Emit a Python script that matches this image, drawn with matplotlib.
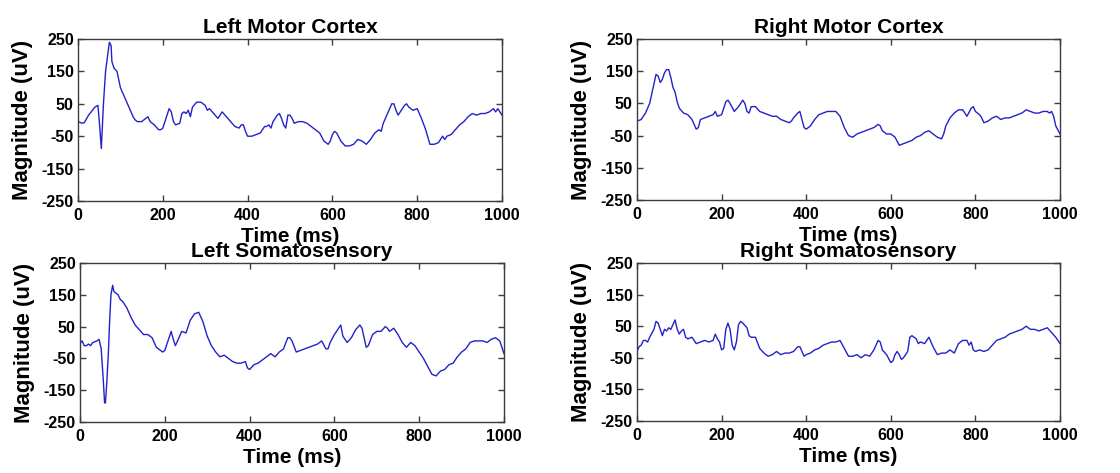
import matplotlib
matplotlib.use("Agg")
import matplotlib.pyplot as plt

# ---------------- data ----------------
lmc_t = [0, 10, 15, 25, 40, 47, 50, 55, 60, 65, 70, 74, 78, 80, 85, 92, 100, 110, 120, 130,
         135, 140, 150, 160, 165, 170, 180, 190, 195, 200, 210, 215, 220, 225, 230, 240, 245,
         250, 255, 260, 265, 270, 280, 290, 300, 305, 310, 320, 330, 340, 350, 360, 370, 380,
         385, 390, 395, 400, 410, 420, 430, 440, 445, 450, 455, 460, 470, 475, 480, 485, 490,
         495, 500, 505, 510, 520, 530, 540, 550, 560, 570, 580, 590, 595, 600, 605, 610, 620,
         630, 640, 650, 660, 670, 680, 690, 700, 710, 715, 720, 730, 740, 745, 750, 755, 760,
         770, 775, 780, 790, 800, 810, 820, 830, 840, 850, 855, 860, 865, 870, 880, 890, 900,
         910, 920, 930, 940, 950, 960, 970, 980, 985, 990, 1000]
lmc_v = [-5, -10, -8, 15, 40, 45, 0, -88, 50, 150, 200, 240, 230, 180, 160, 150, 100, 70, 40, 10,
         0, -5, -5, 5, 10, -5, -15, -30, -30, -25, 15, 35, 25, -5, -15, -10, 20,
         25, 20, 30, 10, 40, 55, 55, 45, 30, 35, 20, 5, 25, 10, -5, -20, -25,
         -15, -15, -35, -50, -50, -45, -40, -20, -20, -15, -25, -5, 15, 20, 5, -15, -25,
         15, 15, 5, -10, -5, -5, -10, -20, -30, -40, -65, -75, -65, -45, -35, -40, -65,
         -80, -80, -75, -60, -65, -75, -60, -40, -30, -35, -10, 20, 50, 50, 30, 15, 25,
         45, 50, 40, 30, 35, 5, -30, -75, -75, -70, -60, -50, -60, -50, -45, -30, -15,
         -5, 10, 20, 15, 20, 20, 25, 35, 25, 35, 15]

rmc_t = [0, 10, 20, 30, 40, 45, 50, 55, 60, 65, 70, 75, 80, 85, 90, 95, 100, 110, 120, 130,
         140, 145, 150, 160, 170, 180, 185, 190, 200, 210, 215, 220, 230, 240, 250, 255, 260,
         265, 270, 280, 290, 300, 310, 320, 330, 340, 350, 360, 365, 370, 380, 385, 390, 395,
         400, 410, 420, 430, 440, 450, 460, 470, 480, 490, 500, 510, 520, 530, 540, 550, 560,
         570, 575, 580, 590, 600, 610, 620, 630, 640, 650, 660, 670, 680, 690, 700, 710, 720,
         725, 730, 740, 750, 760, 770, 780, 790, 795, 800, 810, 815, 820, 830, 840, 850, 860,
         870, 880, 890, 900, 910, 920, 930, 940, 950, 960, 970, 975, 980, 985, 990, 1000]
rmc_v = [-5, 0, 20, 50, 110, 140, 135, 115, 125, 145, 155, 155, 130, 100, 85, 55, 35, 20, 15, 0,
         -30, -25, 0, 5, 10, 15, 25, 10, 15, 55, 60, 50, 25, 40, 60, 50, 25,
         20, 40, 40, 25, 20, 15, 10, 10, 0, -5, -10, -5, 5, 20, 25, 0, -25,
         -30, -20, 0, 15, 20, 25, 25, 25, 10, -25, -50, -55, -45, -40, -35, -30, -25,
         -15, -20, -35, -45, -45, -55, -80, -75, -70, -65, -55, -50, -40, -35, -45, -55, -60,
         -45, -20, 5, 20, 30, 30, 10, 35, 40, 25, 15, 5, -10, -5, 5, 10, 0,
         5, 5, 10, 15, 20, 30, 25, 20, 20, 25, 25, 20, 25, 10, -20, -45]

ls_t = [0, 5, 10, 15, 20, 25, 30, 40, 45, 50, 55, 58, 60, 63, 67, 70, 73, 77, 80, 85, 90, 95,
        100, 110, 120, 130, 140, 150, 160, 170, 180, 190, 195, 200, 210, 215, 220, 225, 230,
        240, 250, 260, 270, 280, 290, 300, 310, 320, 330, 340, 350, 360, 370, 380, 390, 395,
        400, 410, 420, 430, 440, 450, 460, 470, 480, 490, 495, 500, 510, 520, 530, 540, 550,
        560, 570, 580, 585, 590, 600, 610, 615, 620, 630, 640, 650, 660, 665, 670, 675, 680,
        690, 700, 710, 720, 725, 730, 740, 750, 760, 770, 780, 790, 800, 810, 820, 830, 840,
        850, 860, 870, 880, 890, 900, 910, 920, 930, 940, 950, 960, 970, 980, 990, 1000]
ls_v = [-3, 5, -10, -10, -5, -10, 0, 5, 10, -20, -120, -190, -190, -130, -30, 70, 150, 180, 160, 155, 150, 135,
        130, 110, 80, 55, 40, 25, 25, 15, -15, -25, -30, -25, 15, 35, 10, -10, 5,
        35, 30, 70, 90, 95, 65, 20, -10, -30, -45, -40, -50, -60, -65, -65, -60, -80,
        -85, -70, -65, -55, -45, -35, -45, -30, -20, 15, 15, 5, -30, -25, -20, -15, -10,
        -5, 5, -20, -20, 0, 25, 45, 55, 20, 0, 15, 40, 55, 45, 15, -15, -10,
        25, 35, 35, 50, 45, 35, 45, 25, 0, -15, 0, -10, -30, -50, -75, -100, -105,
        -90, -85, -70, -65, -45, -30, -20, 0, 5, 5, 5, 0, 10, 15, 5, -35]

rs_t = [0, 5, 10, 15, 20, 25, 30, 40, 45, 50, 55, 60, 65, 70, 75, 80, 85, 90, 95, 100, 105,
        110, 115, 120, 130, 140, 150, 160, 170, 180, 185, 190, 195, 200, 205, 210, 215, 220,
        225, 230, 235, 240, 245, 250, 260, 265, 270, 280, 290, 300, 310, 320, 330, 340, 350,
        360, 370, 380, 385, 390, 395, 400, 410, 420, 430, 440, 450, 460, 470, 480, 490, 500,
        510, 520, 530, 540, 550, 560, 570, 575, 580, 590, 600, 605, 610, 615, 620, 625, 630,
        640, 645, 650, 660, 665, 670, 680, 690, 700, 710, 720, 730, 740, 750, 760, 770, 780,
        785, 790, 795, 800, 810, 820, 830, 840, 850, 860, 870, 880, 890, 900, 910, 920, 930,
        940, 950, 960, 970, 980, 990, 1000]
rs_v = [-30, -15, -10, 5, 5, 0, 15, 40, 65, 60, 40, 20, 40, 35, 45, 40, 55, 70, 40, 25, 35,
        40, 15, 10, 15, -5, 0, 5, 0, 5, 25, 10, 0, -25, -20, 40, 60, 40,
        -10, -25, 0, 55, 65, 60, 45, 20, 15, 15, -20, -35, -45, -40, -30, -40, -35,
        -35, -30, -15, -15, -30, -45, -40, -35, -25, -20, -10, -5, 0, 0, 5, -20, -45,
        -45, -40, -50, -40, -45, -25, 5, 0, -25, -40, -65, -60, -40, -30, -40, -55, -50,
        -30, 15, 20, 10, -5, 0, -5, 15, -15, -40, -35, -35, -25, -35, -5, 5, 5,
        -10, 0, -25, -30, -25, -30, -25, -10, 5, 10, 15, 25, 30, 35, 40, 50, 40,
        40, 35, 40, 45, 30, 15, -5]

titles = ["Left Motor Cortex", "Right Motor Cortex", "Left Somatosensory", "Right Somatosensory"]
x_ticks = [0, 200, 400, 600, 800, 1000]
y_ticks = [-250, -150, -50, 50, 150, 250]
x_label = "Time (ms)"
y_label = "Magnitude (uV)"

# ---------------- drawing ----------------
plt.rcParams['font.family'] = ['Liberation Sans', 'DejaVu Sans']
plt.rcParams['font.weight'] = 'bold'
plt.rcParams['axes.unicode_minus'] = False

fig = plt.figure(figsize=(11.2, 4.73), dpi=100)
W, H = 1120, 473
# pixel boxes: (left, top, right, bottom)
boxes = [(78, 39, 502, 201), (637, 39, 1060, 200),
         (80, 263, 504, 422), (637, 263, 1060, 421)]
series = [(lmc_t, lmc_v), (rmc_t, rmc_v), (ls_t, ls_v), (rs_t, rs_v)]

line_col = '#2222c8'
frame_col = '#3c3c3c'

for (l, t, r, b), (tt, vv), title in zip(boxes, series, titles):
    ax = fig.add_axes([l / W, (H - b) / H, (r - l) / W, (b - t) / H])
    ax.plot(tt, vv, color=line_col, linewidth=1.0)
    ax.set_xlim(0, 1000)
    ax.set_ylim(-250, 250)
    ax.set_xticks(x_ticks)
    ax.set_yticks(y_ticks)
    ax.tick_params(direction='in', length=4, width=1, top=True, right=True,
                   labelsize=11.5, color=frame_col)
    ax.tick_params(axis='x', pad=5)
    ax.tick_params(axis='y', pad=3)
    for lab in ax.get_xticklabels() + ax.get_yticklabels():
        lab.set_fontweight('bold')
    for sp in ax.spines.values():
        sp.set_color(frame_col)
        sp.set_linewidth(1.0)
    ax.set_title(title, fontsize=15, fontweight='bold', pad=4)
    ax.set_xlabel(x_label, fontsize=15, fontweight='bold', labelpad=3)
    ax.set_ylabel(y_label, fontsize=16, fontweight='bold', labelpad=6)

fig.savefig("out.png", dpi=100)
